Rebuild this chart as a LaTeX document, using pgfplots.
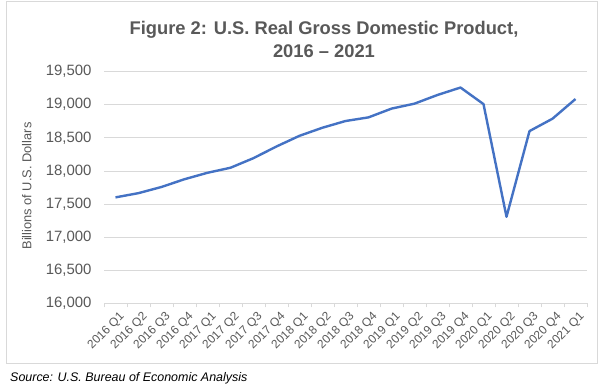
\documentclass[border=0pt]{standalone}
\usepackage{fontspec}
\setmainfont{Liberation Sans}
\usepackage{pgfplots}
\pgfplotsset{compat=1.18}
\definecolor{titleGray}{HTML}{595959}
\definecolor{labelGray}{HTML}{595959}
\definecolor{gridGray}{HTML}{D9D9D9}
\definecolor{lineBlue}{HTML}{4472C4}
\begin{document}
\begin{tikzpicture}
\path[use as bounding box, fill=white] (0,0) rectangle (600bp,392bp);
\draw[gridGray, line width=0.75bp] (6bp,391bp) rectangle (597.5bp,29bp);
\node[anchor=base, font=\bfseries\fontsize{18.4}{22}\selectfont, text=titleGray, inner sep=0] at (324bp,357bp) {Figure 2: U.S. Real Gross Domestic Product,};
\node[anchor=base, font=\bfseries\fontsize{18.4}{22}\selectfont, text=titleGray, inner sep=0] at (324bp,334.5bp) {2016 -- 2021};
\node[rotate=90, font=\fontsize{12.9}{15}\selectfont, text=labelGray, inner sep=0] at (26.7bp,206bp) {Billions of U.S. Dollars};
\node[anchor=base west, font=\itshape\fontsize{12.5}{15}\selectfont, text=black, inner sep=0] at (10bp,11bp) {Source: U.S. Bureau of Economic Analysis};
\begin{axis}[
  at={(104bp,88.5bp)}, anchor=south west,
  scale only axis, width=483bp, height=232bp,
  xmin=-0.5, xmax=20.5, ymin=16000, ymax=19500,
  ytick={16000,16500,...,19500},
  scaled y ticks=false,
  /pgf/number format/1000 sep={,},
  /pgf/number format/assume math mode=true,
  axis line style={draw=none},
  ymajorgrids, grid style={gridGray, line width=0.75bp},
  ytick style={draw=none},
  xtick={0,...,20},
  xticklabels={2016 Q1,2016 Q2,2016 Q3,2016 Q4,2017 Q1,2017 Q2,2017 Q3,2017 Q4,2018 Q1,2018 Q2,2018 Q3,2018 Q4,2019 Q1,2019 Q2,2019 Q3,2019 Q4,2020 Q1,2020 Q2,2020 Q3,2020 Q4,2021 Q1},
  minor xtick={-0.5,0.5,...,20.5},
  xtick pos=bottom, xtick align=outside,
  major x tick style={draw=none},
  minor x tick style={gridGray, line width=0.75bp},
  minor tick length=4bp,
  x tick label style={rotate=45, anchor=east, inner sep=1bp, font=\fontsize{12}{14}\selectfont, text=labelGray, yshift=-10bp, xshift=1bp},
  y tick label style={font=\fontsize{15}{18}\selectfont, text=labelGray, xshift=-9bp},
]
\draw[gridGray, line width=0.75bp] (axis cs:-0.5,16000) -- (axis cs:20.5,16000);
\addplot[color=lineBlue, line width=2.4bp, line join=round, mark=none] coordinates {
(0,17601) (1,17665) (2,17758) (3,17875) (4,17972) (5,18048) (6,18193) (7,18369)
(8,18530) (9,18652) (10,18753) (11,18808) (12,18940) (13,19015) (14,19146) (15,19258)
(16,19008) (17,17308) (18,18601) (19,18788) (20,19085)
};
\end{axis}
\end{tikzpicture}
\end{document}
